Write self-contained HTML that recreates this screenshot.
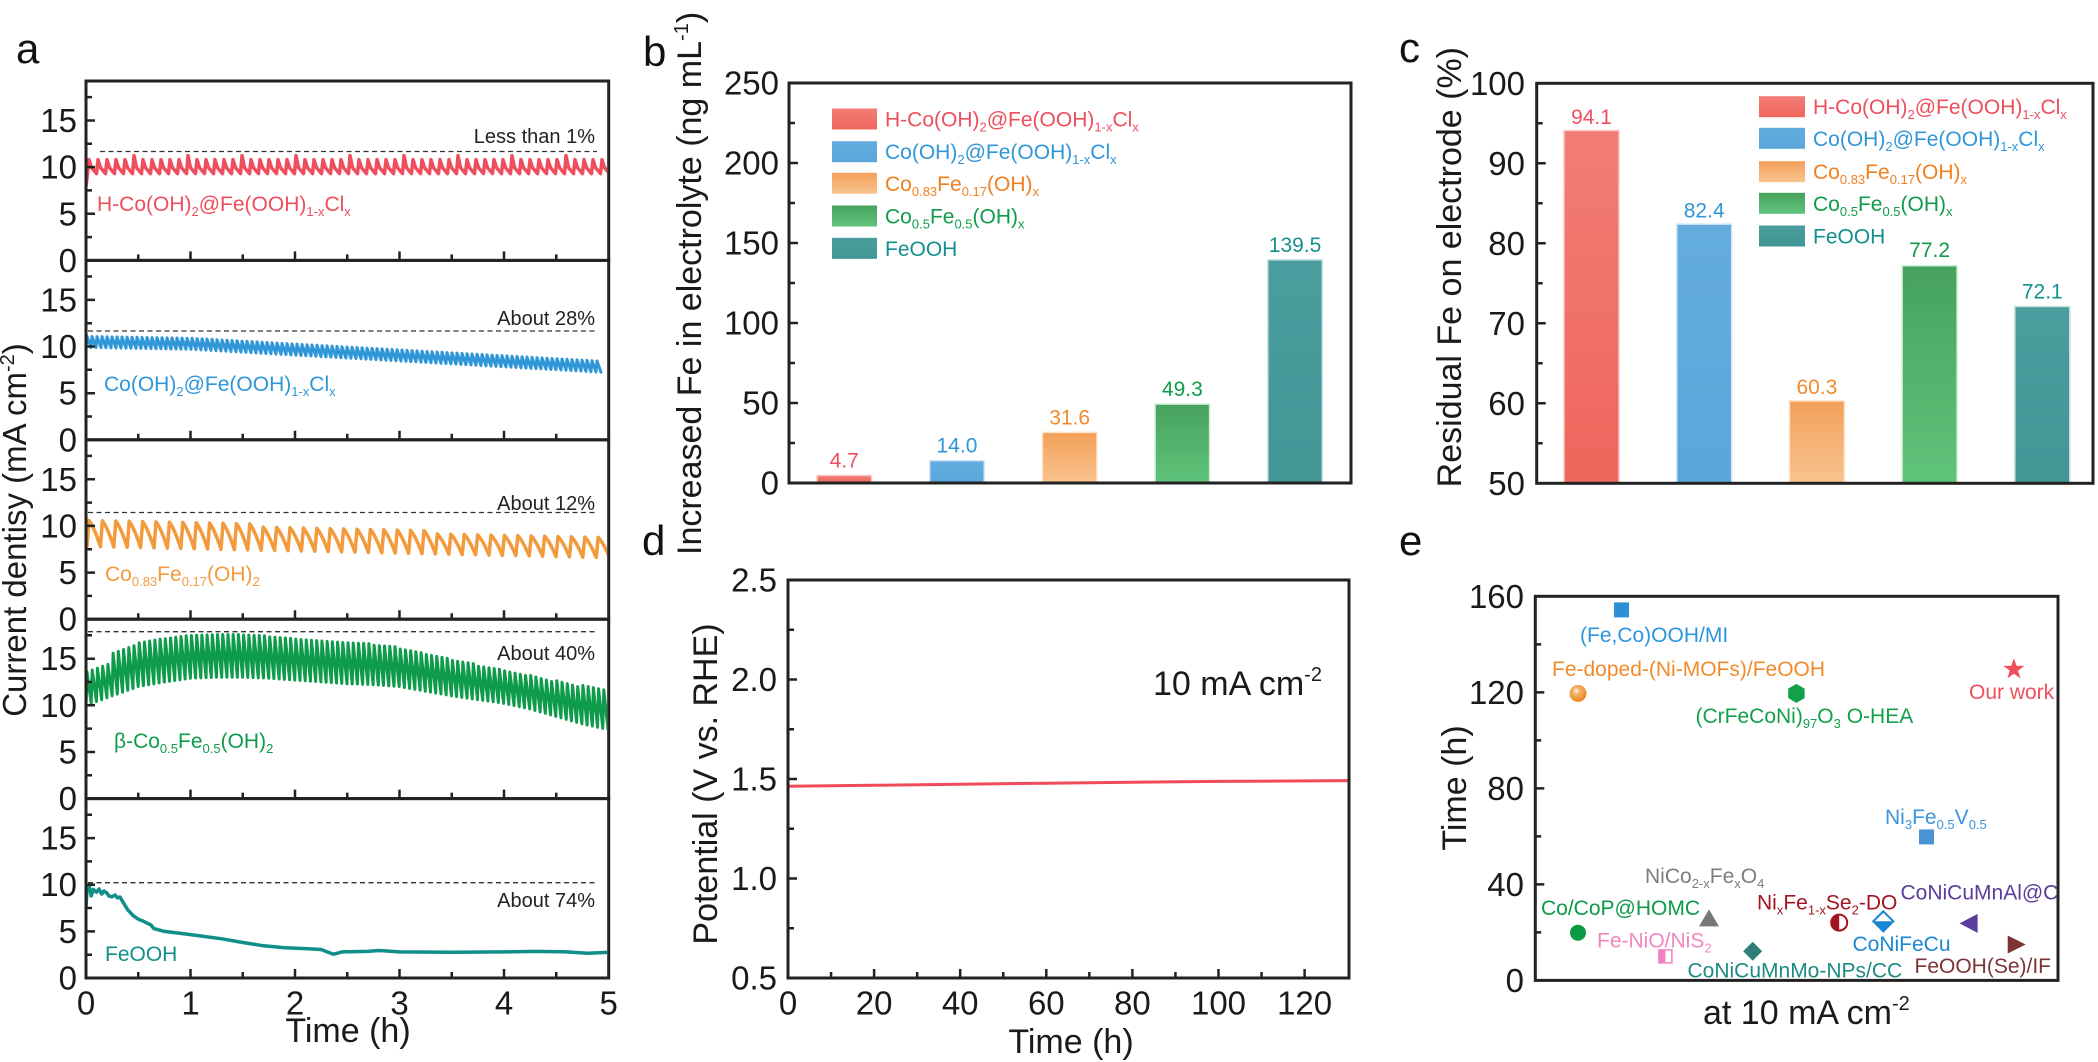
<!DOCTYPE html>
<html><head><meta charset="utf-8"><style>
html,body{margin:0;padding:0;background:#fff;}
svg{display:block;}
text{font-family:"Liberation Sans",Arial,sans-serif;}
</style></head><body>
<svg width="2098" height="1062" viewBox="0 0 2098 1062" xmlns="http://www.w3.org/2000/svg">
<defs>
<linearGradient id="gR" x1="0" y1="0" x2="0" y2="1"><stop offset="0" stop-color="#f27d76"/><stop offset="1" stop-color="#ef665c"/></linearGradient>
<linearGradient id="gB" x1="0" y1="0" x2="0" y2="1"><stop offset="0" stop-color="#64acdf"/><stop offset="1" stop-color="#5aa6db"/></linearGradient>
<linearGradient id="gO" x1="0" y1="0" x2="0" y2="1"><stop offset="0" stop-color="#f3a059"/><stop offset="1" stop-color="#f8c390"/></linearGradient>
<linearGradient id="gG" x1="0" y1="0" x2="0" y2="1"><stop offset="0" stop-color="#46a25d"/><stop offset="1" stop-color="#61c47b"/></linearGradient>
<linearGradient id="gT" x1="0" y1="0" x2="0" y2="1"><stop offset="0" stop-color="#4b9d9e"/><stop offset="1" stop-color="#429696"/></linearGradient>
<radialGradient id="gSph" cx="0.4" cy="0.35" r="0.65"><stop offset="0" stop-color="#fff"/><stop offset="0.3" stop-color="#f7b36a"/><stop offset="1" stop-color="#ea8420"/></radialGradient>
<clipPath id="cA"><rect x="86" y="81" width="521" height="897"/></clipPath>
</defs>

<!-- panel letters -->
<g font-size="42" fill="#111">
<text x="16" y="63">a</text>
<text x="643" y="66">b</text>
<text x="1399" y="62">c</text>
<text x="642" y="555">d</text>
<text x="1399" y="555">e</text>
</g>

<!-- ================= PANEL A ================= -->
<!-- series -->
<g fill="none" stroke-linejoin="round" stroke-linecap="round" clip-path="url(#cA)">
<path stroke="#ee4e5d" stroke-width="3.5" d="M86 186L87.5 173.6l1.5-14l2.5 8l5 6l1.5-14l2.5 8l5 6l1.5-14l2.5 8l5 6l1.5-14l2.5 8l5 6l1.5-14l2.5 8l5 6l1.5-18l2.5 12l5 6l1.5-14l2.5 8l5 6l1.5-14l2.5 8l5 6l1.5-14l2.5 8l5 6l1.5-14l2.5 8l5 6l1.5-14l2.5 8l5 6l1.5-18l2.5 12l5 6l1.5-14l2.5 8l5 6l1.5-14l2.5 8l5 6l1.5-14l2.5 8l5 6l1.5-14l2.5 8l5 6l1.5-14l2.5 8l5 6l1.5-18l2.5 12l5 6l1.5-14l2.5 8l5 6l1.5-14l2.5 8l5 6l1.5-14l2.5 8l5 6l1.5-14l2.5 8l5 6l1.5-14l2.5 8l5 6l1.5-18l2.5 12l5 6l1.5-14l2.5 8l5 6l1.5-14l2.5 8l5 6l1.5-14l2.5 8l5 6l1.5-14l2.5 8l5 6l1.5-14l2.5 8l5 6l1.5-18l2.5 12l5 6l1.5-14l2.5 8l5 6l1.5-14l2.5 8l5 6l1.5-14l2.5 8l5 6l1.5-14l2.5 8l5 6l1.5-14l2.5 8l5 6l1.5-18l2.5 12l5 6l1.5-14l2.5 8l5 6l1.5-14l2.5 8l5 6l1.5-14l2.5 8l5 6l1.5-14l2.5 8l5 6l1.5-14l2.5 8l5 6l1.5-18l2.5 12l5 6l1.5-14l2.5 8l5 6l1.5-14l2.5 8l5 6l1.5-14l2.5 8l5 6l1.5-14l2.5 8l5 6l1.5-14l2.5 8l5 6l1.5-18l2.5 12l5 6l1.5-14l2.5 8l5 6l1.5-14l2.5 8l5 6l1.5-14l2.5 8l5 6l1.5-14l2.5 8l5 6l1.5-14l2.5 8l5 6l1.5-18l2.5 12l5 6l1.5-14l2.5 8l5 6l1.5-14l2.5 8l5 6l1.5-14l2.5 8l5 6l1.5-14l2.5 8l5 6"/>

<path stroke="#2f96d8" stroke-width="3" d="M86 347.4l1-11l4 11.09l1-11l4 11.09l1-11l4 11.09l1-11l4 11.09l1-11l4 11.09l1-11l4 11.09l1-11l4 11.09l1-11l4 11.09l1-11l4 11.09l1-11l4 11.09l1-11l4 11.09l1-11l4 11.09l1-11l4 11.09l1-11l4 11.09l1-11l4 11.09l1-11l4 11.09l1-11l4 11.09l1-11l4 11.09l1-11l4 11.09l1-11l4 11.09l1-11l4 11.09l1-11l4 11.28l1-11l4 11.28l1-11l4 11.28l1-11l4 11.28l1-11l4 11.28l1-11l4 11.28l1-11l4 11.28l1-11l4 11.28l1-11l4 11.28l1-11l4 11.28l1-11l4 11.28l1-11l4 11.28l1-11l4 11.28l1-11l4 11.28l1-11l4 11.28l1-11l4 11.28l1-11l4 11.28l1-11l4 11.28l1-11l4 11.28l1-11l4 11.28l1-11l4 11.28l1-11l4 11.28l1-11l4 11.28l1-11l4 11.28l1-11l4 11.28l1-11l4 11.28l1-11l4 11.28l1-11l4 11.28l1-11l4 11.28l1-11l4 11.28l1-11l4 11.28l1-11l4 11.28l1-11l4 11.28l1-11l4 11.28l1-11l4 11.28l1-11l4 11.28l1-11l4 11.28l1-11l4 11.28l1-11l4 11.28l1-11l4 11.28l1-11l4 11.28l1-11l4 11.28l1-11l4 11.28l1-11l4 11.28l1-11l4 11.28l1-11l4 11.28l1-11l4 11.28l1-11l4 11.28l1-11l4 11.28l1-11l4 11.28l1-11l4 11.28l1-11l4 11.28l1-11l4 11.28l1-11l4 11.28l1-11l4 11.28l1-11l4 11.28l1-11l4 11.28l1-11l4 11.28l1-11l4 11.28l1-11l4 11.28l1-11l4 11.28l1-11l4 11.28l1-11l4 11.28l1-11l4 11.28l1-11l4 11.28l1-11l4 11.28l1-11l4 11.28l1-11l4 11.28l1-11l4 11.28l1-11l4 11.28l1-11l4 11.28l1-11l4 11.28l1-11l4 11.28l1-11l4 11.28l1-11l4 11.28l1-11l4 11.28l1-11l4 11.28l1-11l4 11.28l1-11l4 11.28l1-11l4 11.28l1-11l4 11.28l1-11l4 11.28"/>

<path stroke="#f39a3c" stroke-width="3.5" d="M86 532L87 546.4l2-26q5 6.5 11.4 26.29l2-26q5 6.5 11.4 26.29l2-26q5 6.5 11.4 26.29l2-26q5 6.5 11.4 26.29l2-26q5 6.5 11.4 26.29l2-26q5 6.5 11.4 26.29l2-26q5 6.5 11.4 26.29l2-26q5 6.5 11.4 26.29l2-26q5 6.5 11.4 26.29l2-26q5 6.5 11.4 26.29l2-26q5 6.5 11.4 26.29l2-26q5 6.5 11.4 26.29l2-26q5 6.5 11.4 26.29l2-23q5 5.75 11.4 23.29l2-23q5 5.75 11.4 23.29l2-23q5 5.75 11.4 23.29l2-23q5 5.75 11.4 23.29l2-23q5 5.75 11.4 23.29l2-23q5 5.75 11.4 23.29l2-23q5 5.75 11.4 23.29l2-23q5 5.75 11.4 23.29l2-23q5 5.75 11.4 23.29l2-23q5 5.75 11.4 23.29l2-23q5 5.75 11.4 23.29l2-23q5 5.75 11.4 23.29l2-23q5 5.75 11.4 23.29l2-20q5 5 11.4 20.29l2-20q5 5 11.4 20.29l2-20q5 5 11.4 20.29l2-20q5 5 11.4 20.29l2-20q5 5 11.4 20.29l2-20q5 5 11.4 20.29l2-20q5 5 11.4 20.29l2-20q5 5 11.4 20.29l2-20q5 5 11.4 20.29l2-20q5 5 11.4 20.29l2-20q5 5 11.4 20.29l2-20q5 5 11.4 20.29l2-20q5 5 11.4 20.29"/>

<path stroke="#0e9b4a" stroke-width="3" d="M86 714.6L86 705.3l1-33.4l4.22 31.53l1-33.4l4.22 31.53l1-33.4l4.22 31.53l1-33.4l4.22 31.53l1-33.4l4.22 31.53l1-42.7l4.22 40.83l1-42.7l4.22 40.83l1-42.7l4.22 40.83l1-42.7l4.22 40.83l1-42.7l4.22 40.83l1-43.7l4.22 42.77l1-43.7l4.22 42.77l1-43.7l4.22 42.77l1-43.7l4.22 42.77l1-43.7l4.22 42.77l1-43.2l4.22 42.45l1-43.2l4.22 42.45l1-43.2l4.22 42.45l1-43.2l4.22 42.45l1-43.2l4.22 42.45l1-42.7l4.22 42.51l1-42.7l4.22 42.51l1-42.7l4.22 42.51l1-42.7l4.22 42.51l1-42.7l4.22 42.51l1-42.7l4.22 42.7l1-42.7l4.22 42.7l1-42.7l4.22 42.7l1-42.7l4.22 42.7l1-42.7l4.22 42.7l1-42.3l4.22 42.49l1-42.3l4.22 42.49l1-42.3l4.22 42.49l1-42.3l4.22 42.49l1-42.3l4.22 42.49l1-41.3l4.22 41.67l1-41.3l4.22 41.67l1-41.3l4.22 41.67l1-41.3l4.22 41.67l1-41.3l4.22 41.67l1-40.9l4.22 41.27l1-40.9l4.22 41.27l1-40.9l4.22 41.27l1-40.9l4.22 41.27l1-40.9l4.22 41.27l1-40.9l4.22 41.27l1-40.9l4.22 41.27l1-40.9l4.22 41.27l1-40.9l4.22 41.27l1-40.9l4.22 41.27l1-40.9l4.22 41.09l1-40.9l4.22 41.09l1-40.9l4.22 41.09l1-40.9l4.22 41.09l1-40.9l4.22 41.09l1-39.5l4.22 39.87l1-39.5l4.22 39.87l1-39.5l4.22 39.87l1-39.5l4.22 39.87l1-39.5l4.22 39.87l1-37.6l4.22 38.53l1-37.6l4.22 38.53l1-37.6l4.22 38.53l1-37.6l4.22 38.53l1-37.6l4.22 38.53l1-36.7l4.22 37.63l1-36.7l4.22 37.63l1-36.7l4.22 37.63l1-36.7l4.22 37.63l1-36.7l4.22 37.63l1-35.3l4.22 36.05l1-35.3l4.22 36.05l1-35.3l4.22 36.05l1-35.3l4.22 36.05l1-35.3l4.22 36.05l1-33.4l4.22 34.15l1-33.4l4.22 34.15l1-33.4l4.22 34.15l1-33.4l4.22 34.15l1-33.4l4.22 34.15l1-32.5l4.22 33.62l1-32.5l4.22 33.62l1-32.5l4.22 33.62l1-32.5l4.22 33.62l1-32.5l4.22 33.62l1-33.4l4.22 34.89l1-33.4l4.22 34.89l1-33.4l4.22 34.89l1-33.4l4.22 34.89l1-33.4l4.22 34.89l1-35.7l4.22 37.19l1-35.7l4.22 37.19l1-35.7l4.22 37.19l1-35.7l4.22 37.19l1-35.7l4.22 37.19l1-38.5l4.22 39.62l1-38.5l4.22 39.62l1-38.5l4.22 39.62l1-38.5l4.22 39.62l1-38.5l4.22 39.62"/>

<polyline stroke="#0f8e8a" stroke-width="3.5" points="86,908 87,888.4 89.1,884.7 91.2,895.9 93.3,889.4 96.5,892.2 99,889 101.7,894 104,891 106.9,893.1 109,896 112.1,896.8 115,895 117.4,897.8 120,897 122.6,901.5 127.8,909.9 133,915.5 138.3,919.2 143,921 148.7,923.9 151,925 153.9,928.6 164.4,931.4 180,933.2 201,936 221.9,938.8 242.8,942.5 263.7,945.8 284.6,947.7 305.5,948.6 321.1,949.5 329.5,952.8 333.7,954.2 342,951.9 368.2,951.4 378.6,950.5 399.5,951.9 451.8,952.3 504,951.9 535.4,951.4 566.7,951.9 587.6,953.3 608.5,952.3"/>
</g>

<!-- dashed reference lines -->
<g stroke="#333" stroke-width="1.3" stroke-dasharray="5 3.5" fill="none">
<path d="M100 151.5H597"/>
<path d="M88 331H597"/>
<path d="M88 512.5H597"/>
<path d="M88 631.7H597"/>
<path d="M88 882.7H597"/>
</g>
<g font-size="20" fill="#222" text-anchor="end">
<text x="595" y="143">Less than 1%</text>
<text x="595" y="325">About 28%</text>
<text x="595" y="510">About 12%</text>
<text x="595" y="660">About 40%</text>
<text x="595" y="907">About 74%</text>
</g>

<!-- series labels -->
<g font-size="21">
<text x="97" y="211" fill="#ee4e5d">H-Co(OH)<tspan font-size="13" dy="5">2</tspan><tspan dy="-5">@Fe(OOH)</tspan><tspan font-size="13" dy="5">1-x</tspan><tspan dy="-5">Cl</tspan><tspan font-size="13" dy="5">x</tspan></text>
<text x="104" y="391" fill="#2f96d8">Co(OH)<tspan font-size="13" dy="5">2</tspan><tspan dy="-5">@Fe(OOH)</tspan><tspan font-size="13" dy="5">1-x</tspan><tspan dy="-5">Cl</tspan><tspan font-size="13" dy="5">x</tspan></text>
<text x="105" y="581" fill="#f39a3c">Co<tspan font-size="13" dy="5">0.83</tspan><tspan dy="-5">Fe</tspan><tspan font-size="13" dy="5">0.17</tspan><tspan dy="-5">(OH)</tspan><tspan font-size="13" dy="5">2</tspan></text>
<text x="114" y="748" fill="#0e9b4a">β-Co<tspan font-size="13" dy="5">0.5</tspan><tspan dy="-5">Fe</tspan><tspan font-size="13" dy="5">0.5</tspan><tspan dy="-5">(OH)</tspan><tspan font-size="13" dy="5">2</tspan></text>
<text x="105" y="961" fill="#0f8e8a">FeOOH</text>
</g>

<!-- frames -->
<g fill="none" stroke="#222" stroke-width="3">
<rect x="86" y="81" width="522.7" height="179.4"/>
<rect x="86" y="260.4" width="522.7" height="179.4"/>
<rect x="86" y="439.8" width="522.7" height="179.4"/>
<rect x="86" y="619.2" width="522.7" height="179.4"/>
<rect x="86" y="798.6" width="522.7" height="179.4"/>
</g>
<path fill="none" stroke="#222" stroke-width="2.5" d="
M86 237.1h6M86 213.8h9M86 190.4h6M86 167.1h9M86 143.8h6M86 120.5h9M86 97.1h6
M138.25 260.4v-6M190.5 260.4v-9M242.75 260.4v-6M295 260.4v-9M347.25 260.4v-6M399.5 260.4v-9M451.75 260.4v-6M504 260.4v-9M556.25 260.4v-6
M86 416.5h6M86 393.2h9M86 369.8h6M86 346.5h9M86 323.2h6M86 299.9h9M86 276.5h6
M138.25 439.8v-6M190.5 439.8v-9M242.75 439.8v-6M295 439.8v-9M347.25 439.8v-6M399.5 439.8v-9M451.75 439.8v-6M504 439.8v-9M556.25 439.8v-6
M86 595.9h6M86 572.6h9M86 549.2h6M86 525.9h9M86 502.6h6M86 479.3h9M86 455.9h6
M138.25 619.2v-6M190.5 619.2v-9M242.75 619.2v-6M295 619.2v-9M347.25 619.2v-6M399.5 619.2v-9M451.75 619.2v-6M504 619.2v-9M556.25 619.2v-6
M86 775.3h6M86 752h9M86 728.6h6M86 705.3h9M86 682h6M86 658.7h9M86 635.3h6
M138.25 798.6v-6M190.5 798.6v-9M242.75 798.6v-6M295 798.6v-9M347.25 798.6v-6M399.5 798.6v-9M451.75 798.6v-6M504 798.6v-9M556.25 798.6v-6
M86 954.7h6M86 931.4h9M86 908h6M86 884.7h9M86 861.4h6M86 838.1h9M86 814.7h6
M138.25 978v-6M190.5 978v-9M242.75 978v-6M295 978v-9M347.25 978v-6M399.5 978v-9M451.75 978v-6M504 978v-9M556.25 978v-6"/>
<g font-size="33" fill="#1a1a1a" text-anchor="end">
<text x="77" y="272">0</text><text x="77" y="225.3">5</text><text x="77" y="178.6">10</text><text x="77" y="132">15</text>
<text x="77" y="451.3">0</text><text x="77" y="404.7">5</text><text x="77" y="358">10</text><text x="77" y="311.4">15</text>
<text x="77" y="630.7">0</text><text x="77" y="584.1">5</text><text x="77" y="537.4">10</text><text x="77" y="490.8">15</text>
<text x="77" y="810.1">0</text><text x="77" y="763.5">5</text><text x="77" y="716.8">10</text><text x="77" y="670.2">15</text>
<text x="77" y="989.5">0</text><text x="77" y="942.9">5</text><text x="77" y="896.2">10</text><text x="77" y="849.6">15</text>
</g>
<g font-size="33" fill="#1a1a1a" text-anchor="middle">
<text x="86" y="1014.5">0</text><text x="190.5" y="1014.5">1</text><text x="295" y="1014.5">2</text><text x="399.5" y="1014.5">3</text><text x="504" y="1014.5">4</text><text x="608.7" y="1014.5">5</text>
<text x="348" y="1042" font-size="34">Time (h)</text>
</g>
<text transform="translate(26,530) rotate(-90)" text-anchor="middle" font-size="33" fill="#1a1a1a">Current dentisy (mA cm<tspan font-size="20" dy="-12">-2</tspan><tspan font-size="33" dy="12">)</tspan></text>

<!-- ================= PANEL B ================= -->
<g stroke-width="1.5">
<rect x="817" y="475.5" width="54.5" height="7.5" fill="url(#gR)" stroke="#f9cac6"/>
<rect x="929.7" y="460.6" width="54.5" height="22.4" fill="url(#gB)" stroke="#d3e7f5"/>
<rect x="1042.4" y="432.4" width="54.5" height="50.6" fill="url(#gO)" stroke="#fde3c8"/>
<rect x="1155.1" y="404.1" width="54.5" height="78.9" fill="url(#gG)" stroke="#cfeed7"/>
<rect x="1267.8" y="259.8" width="54.5" height="223.2" fill="url(#gT)" stroke="#c9e2e2"/>
</g>
<g font-size="21" text-anchor="middle">
<text x="844.25" y="467.5" fill="#ee4e5d">4.7</text>
<text x="956.95" y="452.6" fill="#2f96d8">14.0</text>
<text x="1069.65" y="424.4" fill="#f08a2c">31.6</text>
<text x="1182.35" y="396.1" fill="#0e9b4a">49.3</text>
<text x="1295.05" y="251.8" fill="#14908c">139.5</text>
</g>
<!-- legend b -->
<rect x="832" y="108.5" width="45" height="21" fill="url(#gR)"/>
<rect x="832" y="141.2" width="45" height="21" fill="url(#gB)"/>
<rect x="832" y="172.8" width="45" height="21" fill="url(#gO)"/>
<rect x="832" y="205.5" width="45" height="21" fill="url(#gG)"/>
<rect x="832" y="237.8" width="45" height="21" fill="url(#gT)"/>
<g font-size="21">
<text x="885" y="126.5" fill="#ee4e5d">H-Co(OH)<tspan font-size="13" dy="5">2</tspan><tspan dy="-5">@Fe(OOH)</tspan><tspan font-size="13" dy="5">1-x</tspan><tspan dy="-5">Cl</tspan><tspan font-size="13" dy="5">x</tspan></text>
<text x="885" y="159.2" fill="#2f96d8">Co(OH)<tspan font-size="13" dy="5">2</tspan><tspan dy="-5">@Fe(OOH)</tspan><tspan font-size="13" dy="5">1-x</tspan><tspan dy="-5">Cl</tspan><tspan font-size="13" dy="5">x</tspan></text>
<text x="885" y="190.8" fill="#f0801f">Co<tspan font-size="13" dy="5">0.83</tspan><tspan dy="-5">Fe</tspan><tspan font-size="13" dy="5">0.17</tspan><tspan dy="-5">(OH)</tspan><tspan font-size="13" dy="5">x</tspan></text>
<text x="885" y="223.5" fill="#0e9b4a">Co<tspan font-size="13" dy="5">0.5</tspan><tspan dy="-5">Fe</tspan><tspan font-size="13" dy="5">0.5</tspan><tspan dy="-5">(OH)</tspan><tspan font-size="13" dy="5">x</tspan></text>
<text x="885" y="255.8" fill="#14908c">FeOOH</text>
</g>
<rect x="789" y="83" width="562" height="400" fill="none" stroke="#222" stroke-width="3"/>
<path fill="none" stroke="#222" stroke-width="2.5" d="M789 443h6M789 403h9M789 363h6M789 323h9M789 283h6M789 243h9M789 203h6M789 163h9M789 123h6"/>
<g font-size="33" fill="#1a1a1a" text-anchor="end">
<text x="779" y="494.5">0</text><text x="779" y="414.5">50</text><text x="779" y="334.5">100</text><text x="779" y="254.5">150</text><text x="779" y="174.5">200</text><text x="779" y="94.5">250</text>
</g>
<text transform="translate(701,555) rotate(-90)" text-anchor="start" font-size="34" fill="#1a1a1a">Increased Fe in electrolyte (ng mL<tspan font-size="20" dy="-13">-1</tspan><tspan font-size="34" dy="13">)</tspan></text>

<!-- ================= PANEL C ================= -->
<g stroke-width="1.5">
<rect x="1564" y="130.5" width="55" height="352.8" fill="url(#gR)" stroke="#f9cac6"/>
<rect x="1676.7" y="224.1" width="55" height="259.2" fill="url(#gB)" stroke="#d3e7f5"/>
<rect x="1789.4" y="400.9" width="55" height="82.4" fill="url(#gO)" stroke="#fde3c8"/>
<rect x="1902.1" y="265.7" width="55" height="217.6" fill="url(#gG)" stroke="#cfeed7"/>
<rect x="2014.8" y="306.5" width="55" height="176.8" fill="url(#gT)" stroke="#c9e2e2"/>
</g>
<g font-size="21" text-anchor="middle">
<text x="1591.5" y="124" fill="#ee4e5d">94.1</text>
<text x="1704.2" y="217.5" fill="#2f96d8">82.4</text>
<text x="1816.9" y="394" fill="#f08a2c">60.3</text>
<text x="1929.6" y="257" fill="#0e9b4a">77.2</text>
<text x="2042.3" y="298.5" fill="#14908c">72.1</text>
</g>
<rect x="1759" y="96.2" width="46" height="21" fill="url(#gR)"/>
<rect x="1759" y="127.8" width="46" height="21" fill="url(#gB)"/>
<rect x="1759" y="161.2" width="46" height="21" fill="url(#gO)"/>
<rect x="1759" y="192.8" width="46" height="21" fill="url(#gG)"/>
<rect x="1759" y="225.5" width="46" height="21" fill="url(#gT)"/>
<g font-size="21">
<text x="1813" y="114.2" fill="#ee4e5d">H-Co(OH)<tspan font-size="13" dy="5">2</tspan><tspan dy="-5">@Fe(OOH)</tspan><tspan font-size="13" dy="5">1-x</tspan><tspan dy="-5">Cl</tspan><tspan font-size="13" dy="5">x</tspan></text>
<text x="1813" y="145.8" fill="#2f96d8">Co(OH)<tspan font-size="13" dy="5">2</tspan><tspan dy="-5">@Fe(OOH)</tspan><tspan font-size="13" dy="5">1-x</tspan><tspan dy="-5">Cl</tspan><tspan font-size="13" dy="5">x</tspan></text>
<text x="1813" y="179.2" fill="#f0801f">Co<tspan font-size="13" dy="5">0.83</tspan><tspan dy="-5">Fe</tspan><tspan font-size="13" dy="5">0.17</tspan><tspan dy="-5">(OH)</tspan><tspan font-size="13" dy="5">x</tspan></text>
<text x="1813" y="210.8" fill="#0e9b4a">Co<tspan font-size="13" dy="5">0.5</tspan><tspan dy="-5">Fe</tspan><tspan font-size="13" dy="5">0.5</tspan><tspan dy="-5">(OH)</tspan><tspan font-size="13" dy="5">x</tspan></text>
<text x="1813" y="243.5" fill="#14908c">FeOOH</text>
</g>
<rect x="1536.7" y="83.3" width="556.3" height="400" fill="none" stroke="#222" stroke-width="3"/>
<path fill="none" stroke="#222" stroke-width="2.5" d="M1536.7 123.3h6M1536.7 163.3h9M1536.7 203.3h6M1536.7 243.3h9M1536.7 283.3h6M1536.7 323.3h9M1536.7 363.3h6M1536.7 403.3h9M1536.7 443.3h6"/>
<g font-size="33" fill="#1a1a1a" text-anchor="end">
<text x="1525" y="94.8">100</text><text x="1525" y="174.8">90</text><text x="1525" y="254.8">80</text><text x="1525" y="334.8">70</text><text x="1525" y="414.8">60</text><text x="1525" y="494.8">50</text>
</g>
<text transform="translate(1461,47) rotate(-90)" text-anchor="end" font-size="34" fill="#1a1a1a">Residual Fe on electrode (%)</text>

<!-- ================= PANEL D ================= -->
<path fill="none" stroke="#ef4b5a" stroke-width="3" d="M788 786.2L874 785.3L960 784.2L1046 783.2L1132 782.2L1218 781.4L1349 780.6"/>
<rect x="788" y="580" width="561" height="398" fill="none" stroke="#222" stroke-width="3"/>
<path fill="none" stroke="#222" stroke-width="2.5" d="M788 928.25h6M788 878.5h9M788 828.75h6M788 779h9M788 729.25h6M788 679.5h9M788 629.75h6
M831.05 978v-6M874.1 978v-9M917.15 978v-6M960.2 978v-9M1003.25 978v-6M1046.3 978v-9M1089.35 978v-6M1132.4 978v-9M1175.45 978v-6M1218.5 978v-9M1261.55 978v-6M1304.6 978v-9"/>
<g font-size="33" fill="#1a1a1a" text-anchor="end">
<text x="777" y="989.5">0.5</text><text x="777" y="890">1.0</text><text x="777" y="790.5">1.5</text><text x="777" y="691">2.0</text><text x="777" y="591.5">2.5</text>
</g>
<g font-size="33" fill="#1a1a1a" text-anchor="middle">
<text x="788" y="1014.5">0</text><text x="874.1" y="1014.5">20</text><text x="960.2" y="1014.5">40</text><text x="1046.3" y="1014.5">60</text><text x="1132.4" y="1014.5">80</text><text x="1218.5" y="1014.5">100</text><text x="1304.6" y="1014.5">120</text>
<text x="1071" y="1053" font-size="34">Time (h)</text>
</g>
<text x="1153" y="695" font-size="34" fill="#1a1a1a">10 mA cm<tspan font-size="20" dy="-14">-2</tspan></text>
<text transform="translate(717,784) rotate(-90)" text-anchor="middle" font-size="34" fill="#1a1a1a">Potential (V vs. RHE)</text>

<!-- ================= PANEL E ================= -->
<rect x="1535.3" y="596.3" width="522.7" height="384.1" fill="none" stroke="#222" stroke-width="3"/>
<path fill="none" stroke="#222" stroke-width="2.5" d="M1535.3 932.4h6M1535.3 884.4h9M1535.3 836.4h6M1535.3 788.4h9M1535.3 740.4h6M1535.3 692.4h9M1535.3 644.4h6"/>
<g font-size="33" fill="#1a1a1a" text-anchor="end">
<text x="1524" y="991.9">0</text><text x="1524" y="895.9">40</text><text x="1524" y="799.9">80</text><text x="1524" y="703.9">120</text><text x="1524" y="607.9">160</text>
</g>
<text transform="translate(1466,788) rotate(-90)" text-anchor="middle" font-size="34" fill="#1a1a1a">Time (h)</text>
<text x="1703" y="1024" font-size="34" fill="#1a1a1a">at 10 mA cm<tspan font-size="20" dy="-14">-2</tspan></text>

<!-- markers -->
<rect x="1614" y="602.4" width="15" height="15" fill="#2d8fd5"/>
<circle cx="1578" cy="693.4" r="8.5" fill="url(#gSph)"/>
<polygon transform="translate(1796.4,693.4)" points="0,-9.5 8.2,-4.75 8.2,4.75 0,9.5 -8.2,4.75 -8.2,-4.75" fill="#12a04a"/>
<path transform="translate(2013.9,669.3)" d="M0,-11 L2.59,-3.56 L10.46,-3.4 L4.18,1.36 L6.47,8.9 L0,4.4 L-6.47,8.9 L-4.18,1.36 L-10.46,-3.4 L-2.59,-3.56 Z" fill="#ef4f5e"/>
<rect x="1919" y="829.4" width="15" height="15" fill="#4c93d6"/>
<polygon transform="translate(1709,918.4)" points="0,-9 10,8 -10,8" fill="#777"/>
<circle cx="1578" cy="932.7" r="8" fill="#0b9b45"/>
<g transform="translate(1665.4,956.4)">
<rect x="-6.5" y="-6.5" width="13" height="13" fill="#fff" stroke="#f282bd" stroke-width="1.5"/>
<rect x="-6.5" y="-6.5" width="6.5" height="13" fill="#f282bd"/>
</g>
<polygon transform="translate(1752.7,951.3)" points="0,-9.5 9.5,0 0,9.5 -9.5,0" fill="#2f7d78"/>
<g transform="translate(1839.2,922.6)">
<circle r="8" fill="#fff" stroke="#a3141f" stroke-width="2"/>
<path d="M0,-8 A8,8 0 0 0 0,8 Z" fill="#a3141f"/>
</g>
<g transform="translate(1883.3,921.3)">
<polygon points="0,-10 10,0 0,10 -10,0" fill="#fff" stroke="#1a84d0" stroke-width="2"/>
<polygon points="-10,0 10,0 0,10" fill="#1a84d0"/>
</g>
<polygon transform="translate(1968.6,923.4)" points="-9,0 9,-9.5 9,9.5" fill="#5a3c9c"/>
<polygon transform="translate(2016.7,944.5)" points="9,0 -9,-9 -9,9" fill="#7b3535"/>

<!-- marker labels -->
<g font-size="21">
<text x="1580" y="642" fill="#2b96dc">(Fe,Co)OOH/MI</text>
<text x="1552" y="676" fill="#f08b2c">Fe-doped-(Ni-MOFs)/FeOOH</text>
<text x="1695.5" y="723" fill="#12a04a">(CrFeCoNi)<tspan font-size="13" dy="5">97</tspan><tspan dy="-5">O</tspan><tspan font-size="13" dy="5">3</tspan><tspan dy="-5"> O-HEA</tspan></text>
<text x="1969" y="699" fill="#ef4f5e">Our work</text>
<text x="1885" y="824" fill="#3b94dc">Ni<tspan font-size="13" dy="5">3</tspan><tspan dy="-5">Fe</tspan><tspan font-size="13" dy="5">0.5</tspan><tspan dy="-5">V</tspan><tspan font-size="13" dy="5">0.5</tspan></text>
<text x="1645" y="883" fill="#7d7d7d">NiCo<tspan font-size="13" dy="5">2-x</tspan><tspan dy="-5">Fe</tspan><tspan font-size="13" dy="5">x</tspan><tspan dy="-5">O</tspan><tspan font-size="13" dy="5">4</tspan></text>
<text x="1541" y="915" fill="#0d9a47">Co/CoP@HOMC</text>
<text x="1597" y="947.5" fill="#f286c0">Fe-NiO/NiS<tspan font-size="13" dy="5">2</tspan></text>
<text x="1687.5" y="977.5" fill="#1e8a84">CoNiCuMnMo-NPs/CC</text>
<text x="1757" y="909.5" fill="#a3141f">Ni<tspan font-size="13" dy="5">x</tspan><tspan dy="-5">Fe</tspan><tspan font-size="13" dy="5">1-x</tspan><tspan dy="-5">Se</tspan><tspan font-size="13" dy="5">2</tspan><tspan dy="-5">-DO</tspan></text>
<text x="1852.5" y="951" fill="#1a88d2">CoNiFeCu</text>
<text x="1900.5" y="899.5" fill="#5a3c9c">CoNiCuMnAl@C</text>
<text x="1914.5" y="973" fill="#7b3535">FeOOH(Se)/IF</text>
</g>
</svg>
</body></html>
